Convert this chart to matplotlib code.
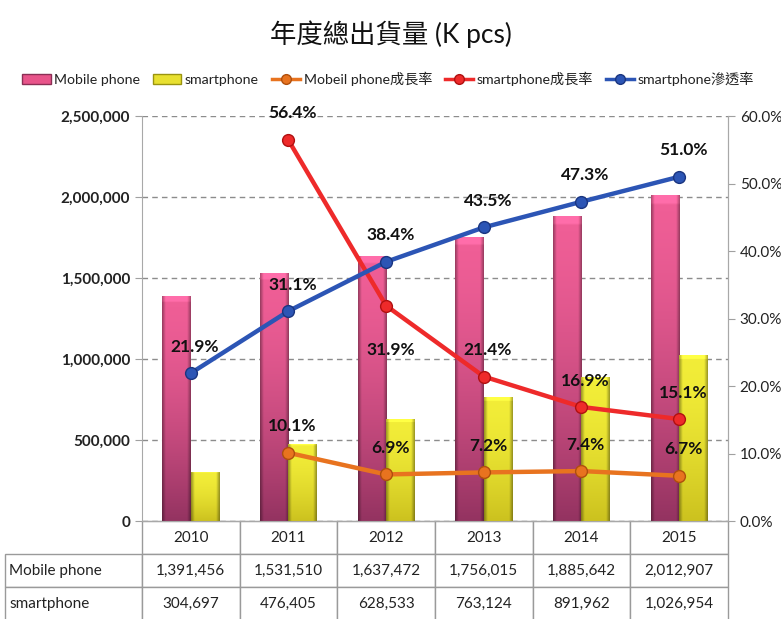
import matplotlib
matplotlib.use('Agg')
import matplotlib.pyplot as plt
from matplotlib.lines import Line2D
from matplotlib.patches import Patch
from matplotlib.ticker import FuncFormatter
import numpy as np

plt.rcParams['font.family'] = ['Lato', 'Noto Sans CJK TC', 'DejaVu Sans']

# data
years = ['2010', '2011', '2012', '2013', '2014', '2015']
mobile = [1391456, 1531510, 1637472, 1756015, 1885642, 2012907]
smart = [304697, 476405, 628533, 763124, 891962, 1026954]
mobile_growth = [None, 10.1, 6.9, 7.2, 7.4, 6.7]
smart_growth = [None, 56.4, 31.9, 21.4, 16.9, 15.1]
smart_pen = [21.9, 31.1, 38.4, 43.5, 47.3, 51.0]

# label offsets in points (positive = above)
smart_growth_off = [0, 20, -32, 19, 19, 19]


def gradient_bar(ax, rect, top, bottom):
    # light top, darker bottom, darker side edges, clipped to the bar
    h, w = 100, 40
    v = (np.linspace(0, 1, h) ** 1.6)[:, None, None]
    col = np.array(top)[None, None, :] * (1 - v) + np.array(bottom)[None, None, :] * v
    xs = np.linspace(-1, 1, w)
    edge = 1 - 0.35 * np.clip((np.abs(xs) - 0.75) / 0.25, 0, 1)
    col = col * edge[None, :, None]
    col[:3] = np.minimum(col[:3] * 1.08 + 0.03, 1)
    x0, y0 = rect.get_x(), rect.get_y()
    im = ax.imshow(col, extent=[x0, x0 + rect.get_width(), y0, y0 + rect.get_height()],
                   aspect='auto', origin='upper', zorder=2)
    im.set_clip_path(rect)


fig = plt.figure(figsize=(7.81, 6.19), dpi=100)
ax = fig.add_axes([0.1818, 0.1583, 0.7503, 0.6543])
ax2 = ax.twinx()

x = np.arange(len(years))
w = 0.29
pink_top, pink_bot = (0.94, 0.37, 0.59), (0.58, 0.20, 0.38)
yel_top, yel_bot = (0.95, 0.93, 0.22), (0.80, 0.76, 0.12)

b1 = ax.bar(x - w / 2, mobile, w, facecolor='none', edgecolor='none', zorder=2)
b2 = ax.bar(x + w / 2, smart, w, facecolor='none', edgecolor='none', zorder=2)
for r in b1:
    gradient_bar(ax, r, pink_top, pink_bot)
for r in b2:
    gradient_bar(ax, r, yel_top, yel_bot)

ax.set_xlim(-0.5, 5.5)
ax.set_ylim(0, 2500000)
ax.set_yticks(range(0, 2500001, 500000))
ax.yaxis.set_major_formatter(FuncFormatter(lambda v, p: f'{int(v):,}'))
ax.grid(axis='y', color='#8c8c8c', linestyle=(0, (4, 3)), linewidth=1)
ax.set_axisbelow(True)
ax.set_xticks([])
ax.tick_params(axis='y', labelsize=11, length=5, color='#a0a0a0')
for t in ax.get_yticklabels():
    t.set_fontweight('bold')
    t.set_color('#222222')
ax.spines['top'].set_visible(False)
for s in ['left', 'right', 'bottom']:
    ax.spines[s].set_color('#a8a8a8')

ax2.set_ylim(0, 60)
ax2.set_yticks(range(0, 61, 10))
ax2.yaxis.set_major_formatter(FuncFormatter(lambda v, p: f'{v:.1f}%'))
ax2.tick_params(axis='y', labelsize=11, length=5, color='#a0a0a0', labelcolor='#222222')
ax2.spines['top'].set_visible(False)
ax2.spines['right'].set_color('#a8a8a8')
ax2.spines['left'].set_visible(False)
ax2.spines['bottom'].set_visible(False)

series = [
    (mobile_growth, '#e8731f', '#b04f0c', [19] * 6),
    (smart_growth, '#ee2a2a', '#b01010', smart_growth_off),
    (smart_pen, '#2c55b5', '#1a3580', [19] * 6),
]
for vals, c, ec, offs in series:
    xs = [i for i, v in enumerate(vals) if v is not None]
    ys = [v for v in vals if v is not None]
    ax2.plot(xs, ys, color=c, linewidth=3.2, marker='o', markersize=8.5,
             markerfacecolor=c, markeredgecolor=ec, zorder=5)
    for xi, yi in zip(xs, ys):
        ax2.annotate(f'{yi:.1f}%', (xi, yi), textcoords='offset points',
                     xytext=(3, offs[xi]), ha='center', va='center',
                     fontsize=12.5, fontweight='bold', color='#111111', zorder=6)

fig.text(0.5, 0.945, '年度總出貨量 (K pcs)', ha='center', va='center',
         fontsize=19, color='#111111')

handles = [
    Patch(facecolor='#e8548a', edgecolor='#8b2f55', label='Mobile phone'),
    Patch(facecolor='#e8e030', edgecolor='#9a9410', label='smartphone'),
    Line2D([], [], color='#e8731f', linewidth=2.5, marker='o', markersize=7,
           markeredgecolor='#b04f0c', label='Mobeil phone成長率'),
    Line2D([], [], color='#ee2a2a', linewidth=2.5, marker='o', markersize=7,
           markeredgecolor='#b01010', label='smartphone成長率'),
    Line2D([], [], color='#2c55b5', linewidth=2.5, marker='o', markersize=7,
           markeredgecolor='#1a3580', label='smartphone滲透率'),
]
leg = fig.legend(handles=handles, loc='center', bbox_to_anchor=(0.497, 0.873), ncol=5,
                 frameon=False, fontsize=10.2, handlelength=2.0, handletextpad=0.25,
                 columnspacing=0.9)
for t in leg.get_texts():
    t.set_color('#222222')

# data table
rows = [['', *years], ['Mobile phone', *[f'{v:,}' for v in mobile]],
        ['smartphone', *[f'{v:,}' for v in smart]]]
lw = 137 / 586
tbl = ax.table(cellText=rows, colWidths=[lw] + [1 / 6] * 6,
               bbox=[-lw, -0.245, 1 + lw, 0.245], cellLoc='center')
tbl.auto_set_font_size(False)
tbl.set_fontsize(11)
for (r, c), cell in tbl.get_celld().items():
    cell.set_edgecolor('#9a9a9a')
    cell.set_linewidth(1)
    cell.get_text().set_color('#222222')
    if c == 0:
        cell.get_text().set_ha('left')
        cell._loc = 'left'
        cell.PAD = 0.03
    if r == 0 and c == 0:
        cell.visible_edges = ''

fig.savefig('out.png', dpi=100)
